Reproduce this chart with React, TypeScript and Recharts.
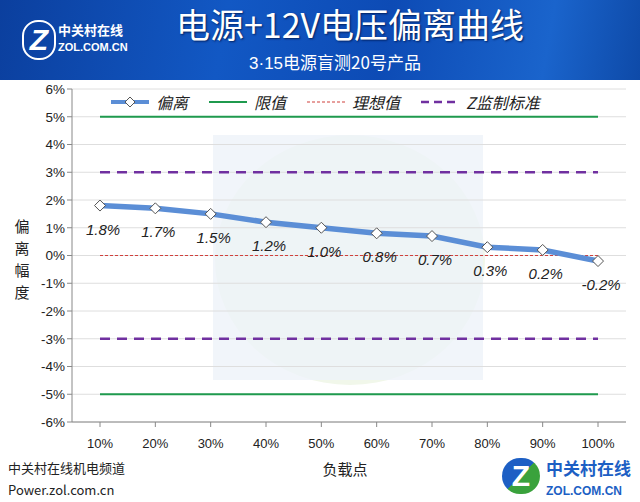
import React from 'react';
import { LineChart, Line, XAxis, YAxis, CartesianGrid, LabelList } from 'recharts';

const loadPoints = ['10%', '20%', '30%', '40%', '50%', '60%', '70%', '80%', '90%', '100%'];
const deviation = [1.8, 1.7, 1.5, 1.2, 1.0, 0.8, 0.7, 0.3, 0.2, -0.2];
const limitValue = 5;
const idealValue = 0;
const zStandard = 3;
const yTicks = [-6, -5, -4, -3, -2, -1, 0, 1, 2, 3, 4, 5, 6];

const chartData = loadPoints.map((p, i) => ({
  point: p,
  deviation: deviation[i],
  limitHigh: limitValue,
  limitLow: -limitValue,
  ideal: idealValue,
  zHigh: zStandard,
  zLow: -zStandard
}));

const CJK = '"Noto Sans CJK SC", "Microsoft YaHei", sans-serif';

const Diamond = (props: any) => {
  const { cx, cy } = props;
  if (cx == null || cy == null) return null;
  const r = 5.5;
  return (
    <path
      d={`M${cx},${cy - r} L${cx + r},${cy} L${cx},${cy + r} L${cx - r},${cy} Z`}
      fill="#fff"
      stroke="#555"
      strokeWidth={1}
    />
  );
};

const ValueLabel = (props: any) => {
  const { x, y, value } = props;
  return (
    <text
      x={x + 3}
      y={y + 29}
      textAnchor="middle"
      fontSize={15}
      fontStyle="italic"
      fontFamily='"Liberation Sans", Arial, sans-serif'
      fill="#222"
    >
      {`${Number(value).toFixed(1)}%`}
    </text>
  );
};

const legendItems = [
  { name: '偏离', color: '#5B8ED6', width: 4, dash: undefined, marker: true },
  { name: '限值', color: '#1F9A4E', width: 2, dash: undefined, marker: false },
  { name: '理想值', color: '#D0403C', width: 1.2, dash: '3 2', marker: false },
  { name: 'Z监制标准', color: '#7030A0', width: 2.5, dash: '8 5', marker: false }
];

const LegendContent = () => (
  <div style={{ display: 'flex', alignItems: 'center', fontFamily: CJK }}>
    {legendItems.map((it) => (
      <div key={it.name} style={{ display: 'flex', alignItems: 'center', marginRight: 20 }}>
        <svg width={40} height={14}>
          <line x1={1} y1={7} x2={39} y2={7} stroke={it.color} strokeWidth={it.width} strokeDasharray={it.dash} />
          {it.marker && <path d="M20,2 L25,7 L20,12 L15,7 Z" fill="#fff" stroke="#555" />}
        </svg>
        <span style={{ fontSize: 16, fontStyle: 'italic', color: '#222', marginLeft: 6 }}>{it.name}</span>
      </div>
    ))}
  </div>
);

export default function App() {
  return (
    <div style={{ position: 'absolute', left: 0, top: 0, width: 640, height: 502, background: '#fff', overflow: 'hidden' }}>
      {/* banner */}
      <div
        style={{
          position: 'absolute', left: 0, top: 0, width: 640, height: 80,
          background: 'linear-gradient(100deg, #0b3f9e 0%, #1258c4 35%, #0d4bb5 60%, #1a64cc 85%, #0e4aa8 100%)'
        }}
      />
      <div style={{ position: 'absolute', left: 22, top: 20, width: 30, height: 36, borderRadius: 16, border: '2px solid #fff', color: '#fff', fontSize: 30, fontWeight: 'bold', fontFamily: 'Arial', textAlign: 'center', lineHeight: '36px', fontStyle: 'italic' }}>Z</div>
      <div style={{ position: 'absolute', left: 58, top: 22, color: '#fff', fontFamily: CJK, fontSize: 13, fontWeight: 'bold', lineHeight: '16px' }}>
        中关村在线<br />
        <span style={{ fontFamily: 'Arial', fontSize: 11 }}>ZOL.COM.CN</span>
      </div>
      <div style={{ position: 'absolute', left: 95, top: 2, width: 510, textAlign: 'center', color: '#fff', fontFamily: CJK, fontSize: 34, lineHeight: '44px', textShadow: '1px 1px 2px #002060', whiteSpace: 'nowrap' }}>
        电源+12V电压偏离曲线
      </div>
      <div style={{ position: 'absolute', left: 180, top: 50, width: 310, textAlign: 'center', color: '#fff', fontFamily: CJK, fontSize: 17, lineHeight: '24px' }}>
        <span style={{ fontFamily: '"Liberation Sans", Arial' }}>3·15</span>电源盲测20号产品
      </div>

      {/* faint watermark */}
      <div style={{ position: 'absolute', left: 215, top: 135, width: 270, height: 250, borderRadius: '50%', background: '#f1f7ea' }} />
      <div style={{ position: 'absolute', left: 213, top: 135, width: 270, height: 245, background: '#eef2f9', opacity: 0.8 }} />

      <div style={{ position: 'absolute', left: 0, top: 0 }}>
        <LineChart width={640} height={502} data={chartData} margin={{ top: 89, right: 14, bottom: 50, left: 10 }}>
          <CartesianGrid vertical={false} stroke="#dedede" />
          <XAxis
            dataKey="point"
            height={30}
            stroke="#888"
            padding={{ left: 28, right: 28 }}
            tickLine={{ stroke: '#888' }}
            tickSize={5}
            tick={{ fill: '#222', fontSize: 13, fontFamily: '"Liberation Sans", Arial' }}
            tickMargin={12}
          />
          <YAxis
            width={62}
            domain={[-6, 6]}
            ticks={yTicks}
            tickFormatter={(v: number) => `${v}%`}
            stroke="#888"
            tickSize={5}
            tick={{ fill: '#222', fontSize: 13.5, fontFamily: '"Liberation Sans", Arial' }}
          />
          <Line dataKey="limitHigh" stroke="#1F9A4E" strokeWidth={2} dot={false} isAnimationActive={false} />
          <Line dataKey="limitLow" stroke="#1F9A4E" strokeWidth={2} dot={false} isAnimationActive={false} />
          <Line dataKey="zHigh" stroke="#7030A0" strokeWidth={2.5} strokeDasharray="10 7" dot={false} isAnimationActive={false} />
          <Line dataKey="zLow" stroke="#7030A0" strokeWidth={2.5} strokeDasharray="10 7" dot={false} isAnimationActive={false} />
          <Line dataKey="ideal" stroke="#D0403C" strokeWidth={1.2} strokeDasharray="3 2" dot={false} isAnimationActive={false} />
          <Line
            dataKey="deviation"
            stroke="#5B8ED6"
            strokeWidth={5.5}
            dot={<Diamond />}
            type="linear"
            isAnimationActive={false}
          >
            <LabelList dataKey="deviation" content={<ValueLabel />} />
          </Line>
        </LineChart>
      </div>

      {/* legend */}
      <div style={{ position: 'absolute', left: 110, top: 90 }}>
        <LegendContent />
      </div>

      {/* axis titles */}
      <div style={{ position: 'absolute', left: 12, top: 215, width: 20, color: '#222', fontFamily: CJK, fontSize: 15, lineHeight: '22px', textAlign: 'center' }}>
        偏<br />离<br />幅<br />度
      </div>
      <div style={{ position: 'absolute', left: 310, top: 458, width: 70, textAlign: 'center', color: '#222', fontFamily: CJK, fontSize: 15 }}>
        负载点
      </div>

      {/* footer */}
      <div style={{ position: 'absolute', left: 8, top: 457, color: '#222', fontFamily: CJK, fontSize: 13, lineHeight: '22px' }}>
        中关村在线机电频道<br />Power.zol.com.cn
      </div>
      <div style={{ position: 'absolute', left: 502, top: 458, width: 38, height: 36, borderRadius: 18, background: 'linear-gradient(135deg, #1d5fc4 0%, #1d5fc4 50%, #3aa23c 50%, #3aa23c 100%)', color: '#fff', fontFamily: 'Arial', fontWeight: 'bold', fontSize: 30, textAlign: 'center', lineHeight: '36px' }}>Z</div>
      <div style={{ position: 'absolute', left: 546, top: 458, color: '#1d5fc4', fontFamily: CJK, fontWeight: 'bold', fontSize: 17, lineHeight: '20px' }}>
        中关村在线<br />
        <span style={{ fontFamily: 'Arial', fontSize: 12 }}>ZOL.COM.CN</span>
      </div>
    </div>
  );
}
